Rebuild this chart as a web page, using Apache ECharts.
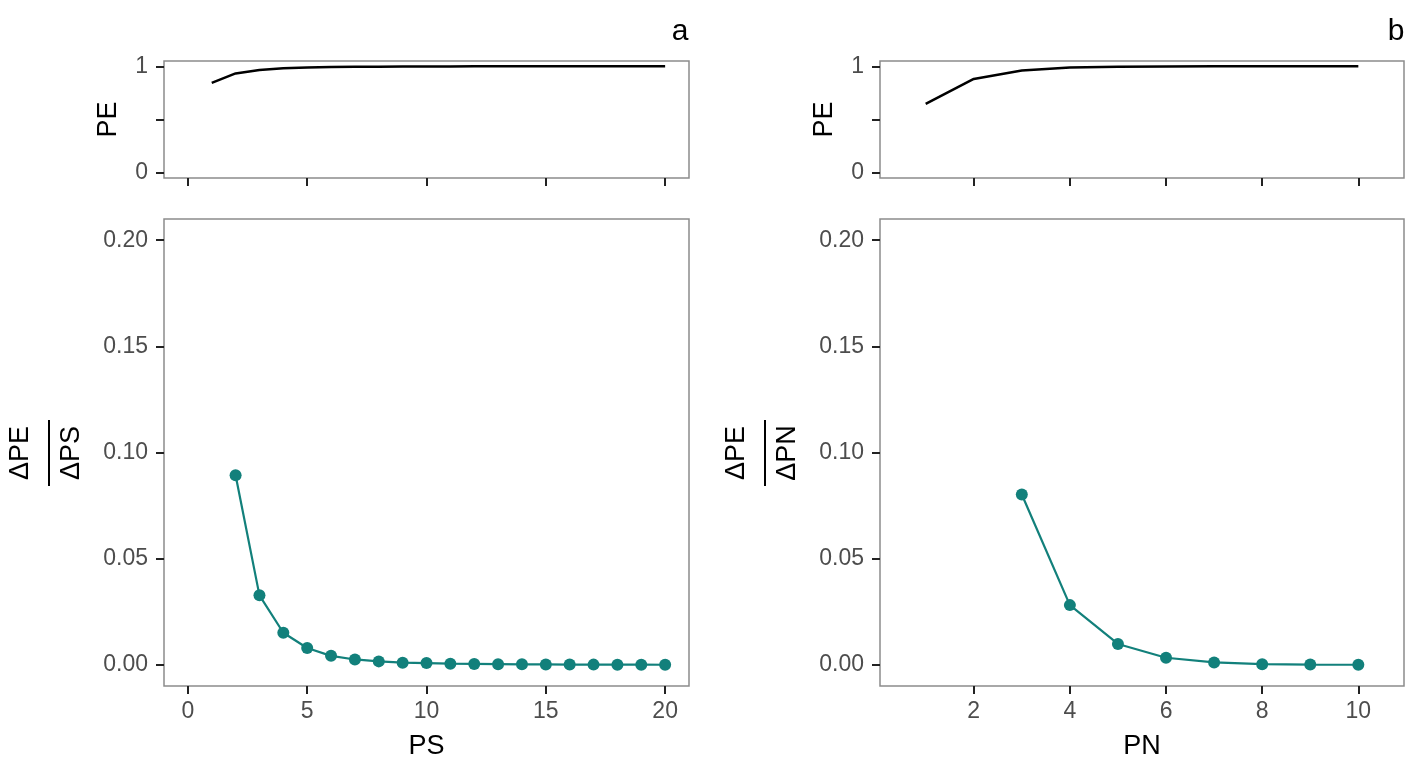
<!DOCTYPE html>
<html>
<head>
<meta charset="utf-8">
<script src="https://cdn.jsdelivr.net/npm/echarts@6/dist/echarts.min.js"></script>
<style>
html,body{margin:0;padding:0;background:#fff;}
#chart{width:1417px;height:768px;}
</style>
</head>
<body>
<div id="chart"></div>
<script>
// ---- data ----
const psX = [1,2,3,4,5,6,7,8,9,10,11,12,13,14,15,16,17,18,19,20];
const pePS = [0.844,0.933,0.966,0.981,0.989,0.993,0.9955,0.997,0.998,0.9988,0.9993,0.9996,0.9998,0.9999,1,1,1,1,1,1];
const dPSx = [2,3,4,5,6,7,8,9,10,11,12,13,14,15,16,17,18,19,20];
const dPS = [0.0893,0.0327,0.0151,0.0079,0.0042,0.0025,0.0016,0.0010,0.0008,0.0005,0.0004,0.0003,0.0002,0.00015,0.0001,0.00007,0.00005,0.00003,0.00002];

const pnX = [1,2,3,4,5,6,7,8,9,10];
const pePN = [0.647,0.881,0.961,0.989,0.9965,0.9993,0.9998,1,1,1];
const dPNx = [3,4,5,6,7,8,9,10];
const dPN = [0.0802,0.0281,0.0098,0.0033,0.0011,0.0003,0.0001,0.0000];

const ticksPS = [0,5,10,15,20];
const ticksPN = [2,4,6,8,10];
const ticksPE = [0,0.5,1];
const ticksD = [0,0.05,0.1,0.15,0.2];

// ---- styles ----
const FONT = 'Liberation Sans, Arial, sans-serif';
const teal = '#12807b';
const border = '#8c8c8c';
const labelCol = '#4d4d4d';
const tickStyle = {color: '#222', width: 2};

const pts = (xs, ys) => xs.map((x, i) => [x, ys[i]]);

function xAx(gi, min, max, ticks, showLabels, name) {
  return {
    type: 'value', gridIndex: gi, min: min, max: max,
    axisLine: {show: false, onZero: false},
    splitLine: {show: false},
    axisTick: {show: true, length: 8, customValues: ticks, lineStyle: tickStyle},
    axisLabel: {show: showLabels, customValues: ticks, margin: 14, color: labelCol, fontSize: 23, fontFamily: FONT},
    name: name || '', nameLocation: 'middle', nameGap: 47,
    nameTextStyle: {color: '#000', fontSize: 27, fontFamily: FONT}
  };
}
function yAxTop(gi) {
  return {
    type: 'value', gridIndex: gi, min: -0.05, max: 1.05,
    axisLine: {show: false, onZero: false}, splitLine: {show: false},
    axisTick: {show: true, length: 8, customValues: ticksPE, lineStyle: tickStyle},
    axisLabel: {show: true, customValues: ticksPE, margin: 16, color: labelCol, fontSize: 23, fontFamily: FONT,
      formatter: v => (v === 0.5 ? '' : String(v))},
    name: 'PE', nameLocation: 'middle', nameGap: 42,
    nameTextStyle: {color: '#000', fontSize: 27, fontFamily: FONT}
  };
}
function yAxBot(gi) {
  return {
    type: 'value', gridIndex: gi, min: -0.01, max: 0.21,
    axisLine: {show: false, onZero: false}, splitLine: {show: false},
    axisTick: {show: true, length: 8, customValues: ticksD, lineStyle: tickStyle},
    axisLabel: {show: true, customValues: ticksD, margin: 16, color: labelCol, fontSize: 23, fontFamily: FONT,
      formatter: v => v.toFixed(2)}
  };
}

const gridStyle = {show: true, borderColor: border, borderWidth: 1.5, backgroundColor: '#fff', containLabel: false};

function fraction(xTop, xLine, xBot, yc, top, bot) {
  const ts = {fill: '#000', fontSize: 27, fontFamily: FONT, align: 'center', verticalAlign: 'middle'};
  return [
    {type: 'text', x: xTop, y: yc, rotation: Math.PI / 2, style: Object.assign({text: top}, ts)},
    {type: 'line', shape: {x1: xLine, y1: yc - 33, x2: xLine, y2: yc + 33}, style: {stroke: '#000', lineWidth: 2}},
    {type: 'text', x: xBot, y: yc, rotation: Math.PI / 2, style: Object.assign({text: bot}, ts)}
  ];
}

const option = {
  backgroundColor: '#fff',
  animation: false,
  grid: [
    Object.assign({left: 164, top: 61, width: 525, height: 117}, gridStyle),
    Object.assign({left: 164, top: 219, width: 525, height: 467}, gridStyle),
    Object.assign({left: 880, top: 61, width: 524, height: 117}, gridStyle),
    Object.assign({left: 880, top: 219, width: 524, height: 467}, gridStyle)
  ],
  xAxis: [
    xAx(0, -1, 21, ticksPS, false),
    xAx(1, -1, 21, ticksPS, true, 'PS'),
    xAx(2, 0.05, 10.95, ticksPN, false),
    xAx(3, 0.05, 10.95, ticksPN, true, 'PN')
  ],
  yAxis: [yAxTop(0), yAxBot(1), yAxTop(2), yAxBot(3)],
  series: [
    {type: 'line', xAxisIndex: 0, yAxisIndex: 0, data: pts(psX, pePS), showSymbol: false,
      lineStyle: {color: '#000', width: 2.5}},
    {type: 'line', xAxisIndex: 1, yAxisIndex: 1, data: pts(dPSx, dPS), symbol: 'circle', symbolSize: 12,
      itemStyle: {color: teal}, lineStyle: {color: teal, width: 2.2}},
    {type: 'line', xAxisIndex: 2, yAxisIndex: 2, data: pts(pnX, pePN), showSymbol: false,
      lineStyle: {color: '#000', width: 2.5}},
    {type: 'line', xAxisIndex: 3, yAxisIndex: 3, data: pts(dPNx, dPN), symbol: 'circle', symbolSize: 12,
      itemStyle: {color: teal}, lineStyle: {color: teal, width: 2.2}}
  ],
  graphic: [
    {type: 'text', x: 680, y: 32, style: {text: 'a', fill: '#000', fontSize: 30, fontFamily: FONT, align: 'center', verticalAlign: 'middle'}},
    {type: 'text', x: 1396, y: 32, style: {text: 'b', fill: '#000', fontSize: 30, fontFamily: FONT, align: 'center', verticalAlign: 'middle'}}
  ].concat(fraction(21, 49, 72, 453, 'ΔPE', 'ΔPS'))
   .concat(fraction(737, 765, 788, 453, 'ΔPE', 'ΔPN'))
};

const chart = echarts.init(document.getElementById('chart'), null, {renderer: 'canvas'});
chart.setOption(option);
</script>
</body>
</html>
